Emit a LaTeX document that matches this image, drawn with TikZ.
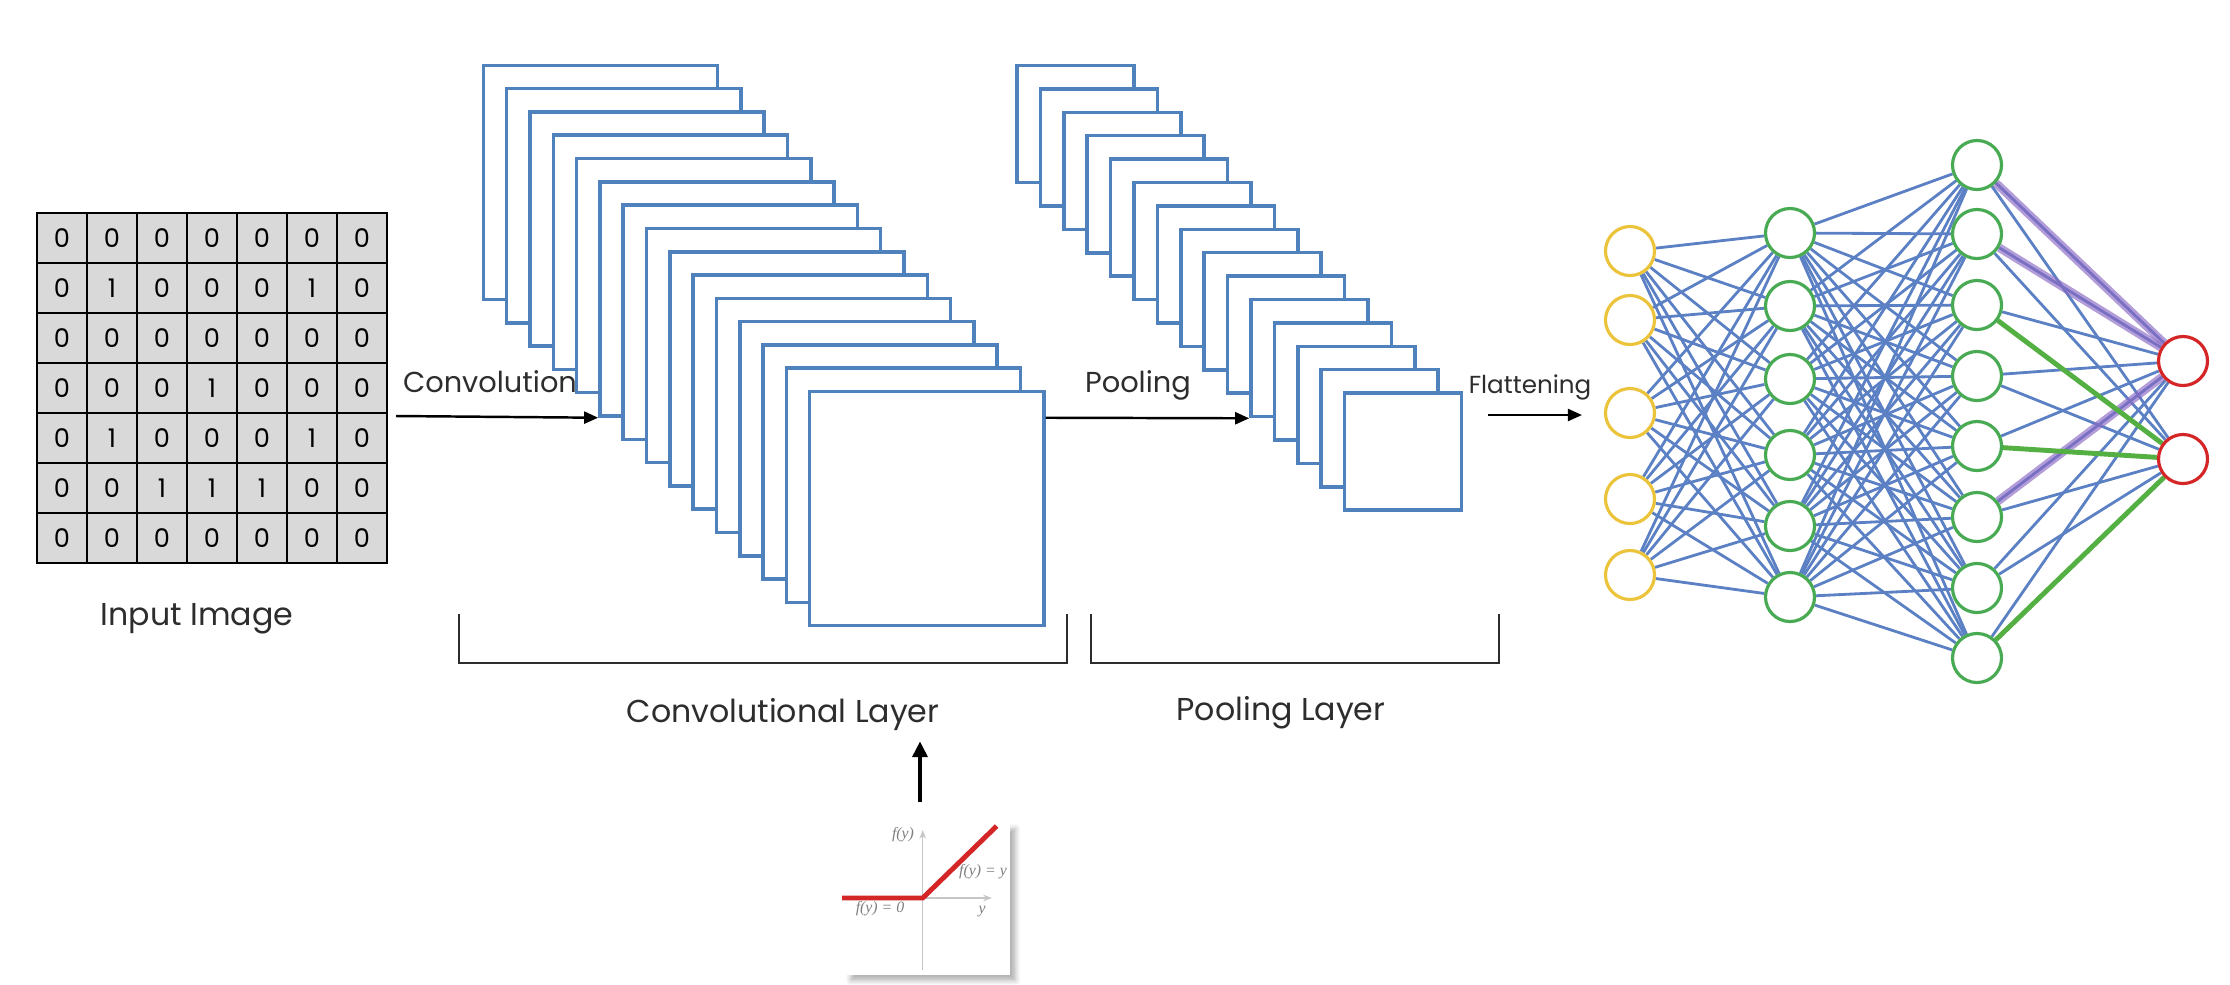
\documentclass[tikz,border=0pt]{standalone}
\usepackage{fontspec}
\setmainfont{Poppins}
\newfontfamily\plotfont{Liberation Serif}
\usetikzlibrary{arrows.meta, positioning, calc, backgrounds, shadows.blur}
\definecolor{mapblue}{RGB}{79,129,189}
\definecolor{cellgray}{RGB}{217,217,217}
\definecolor{linkblue}{RGB}{92,128,196}
\definecolor{inyellow}{RGB}{236,196,60}
\definecolor{hidgreen}{RGB}{72,170,82}
\definecolor{outred}{RGB}{212,38,38}
\definecolor{linkpurple}{RGB}{138,104,196}
\definecolor{linkgreen}{RGB}{84,176,66}
\definecolor{txtgray}{RGB}{45,45,45}

\begin{document}
\begin{tikzpicture}[x=0.01cm, y=-0.01cm,
  cell/.style={draw, fill=cellgray, line width=0.8pt, minimum size=0.5cm, inner sep=0pt, font=\fontsize{7.3}{8}\selectfont},
  fmap/.style={draw=mapblue, fill=white, line width=1pt, minimum size=2.34cm, inner sep=0pt},
  pmap/.style={fmap, minimum size=1.17cm},
  lbl/.style={anchor=base, text=txtgray, font=\fontsize{9}{10}\selectfont},
  arr/.style={-{Triangle[length=4pt, width=3.4pt]}, line width=0.7pt},
  uparr/.style={-{Triangle[length=4.5pt, width=4.2pt]}, line width=1.1pt},
  brace/.style={txtgray, line width=0.8pt},
  relutxt/.style={text=gray, inner sep=0pt, font=\plotfont\itshape\fontsize{4.5}{5}\selectfont},
  neuron/.style={circle, draw, fill=white, line width=0.9pt, minimum size=0.49cm, inner sep=0pt},
  link/.style={linkblue, line width=0.8pt}
]
  \useasboundingbox (0,0) rectangle (2230,984);

  % input image
  \foreach \row [count=\i from 0] in {{0,0,0,0,0,0,0},{0,1,0,0,0,1,0},{0,0,0,0,0,0,0},{0,0,0,1,0,0,0},{0,1,0,0,0,1,0},{0,0,1,1,1,0,0},{0,0,0,0,0,0,0}}
    \foreach \v [count=\j from 0] in \row
      \node[cell] (g\i\j) at (62+50*\j, 238+50*\i) {\v};
  \node[lbl] (inlbl) at (197,625) {Input Image};

  % feature maps
  \foreach \k in {0,...,14}
    \node[fmap] (c\k) at (600.5+23.3*\k, 182.4+23.3*\k) {};
  \foreach \k in {0,...,14}
    \node[pmap] (p\k) at (1075.5+23.4*\k, 124+23.4*\k) {};

  \coordinate (convin) at (396,416);
  \draw[arr] (convin) -- (c5.south west);
  \node[lbl, font=\fontsize{8.2}{9}\selectfont] (convtxt) at (490,392) {Convolution};
  \draw[arr] (c14.east |- c5.south west) -- (p10.south west);
  \node[lbl, font=\fontsize{8.2}{9}\selectfont] (pooltxt) at (1138,392) {Pooling};
  \coordinate (flatin) at (1488,415);
  \coordinate (flatout) at (1582,415);
  \draw[arr] (flatin) -- (flatout);
  \node[lbl, font=\fontsize{7}{8}\selectfont] (flattxt) at (1530,393) {Flattening};

  \draw[brace] (459,614) |- (1067,663) -- (1067,614);
  \draw[brace] (1091,614) |- (1499,663) -- (1499,614);
  \node[lbl] (convlbl) at (783,722) {Convolutional Layer};
  \node[lbl] (poollbl) at (1281,720) {Pooling Layer};

  % relu
  \node[fill=white, minimum width=1.65cm, minimum height=1.52cm, blur shadow={shadow xshift=1.6pt, shadow yshift=-1.6pt, shadow blur radius=1.4pt, shadow opacity=30}] (relu) at (927.5,899) {};
  \draw[uparr] ($(relu.north)+(-7.5,-20)$) -- ++(0,-61);
  \draw[gray!45, line width=0.4pt, -{Stealth[length=2.5pt]}] (922.7,970) -- (922.7,830);
  \draw[gray!45, line width=0.4pt, -{Stealth[length=2.5pt]}] (845,898) -- (992,898);
  \draw[outred, line width=1.4pt] (842,898) -- (922.7,898) -- (996.7,826);
  \node[relutxt] at (903,835) {f(y)};
  \node[relutxt] at (983,872) {f(y) = y};
  \node[relutxt] at (880,909) {f(y) = 0};
  \node[relutxt] at (982,912) {y};

  % network
  \foreach \y [count=\n] in {251,320,413,499,575}
    \node[neuron, draw=inyellow] (a\n) at (1630,\y) {};
  \foreach \y [count=\n] in {233,306,379,455,526,597}
    \node[neuron, draw=hidgreen] (b\n) at (1790,\y) {};
  \foreach \y [count=\n] in {165,234,305,376,446,517,588,658}
    \node[neuron, draw=hidgreen] (d\n) at (1977,\y) {};
  \foreach \y [count=\n] in {361,459}
    \node[neuron, draw=outred] (o\n) at (2183,\y) {};
  \begin{scope}[on background layer]
    \foreach \i in {1,...,5} \foreach \j in {1,...,6} \draw[link] (a\i) -- (b\j);
    \foreach \i in {1,...,6} \foreach \j in {1,...,8} \draw[link] (b\i) -- (d\j);
    \foreach \i in {1,...,8} \foreach \j in {1,2} \draw[link] (d\i) -- (o\j);
    \foreach \i in {1,2,6} \draw[linkpurple, line width=2.4pt, opacity=0.65] (d\i) -- (o1);
    \foreach \i in {3,5,8} \draw[linkgreen, line width=1.4pt] (d\i) -- (o2);
  \end{scope}
\end{tikzpicture}
\end{document}
